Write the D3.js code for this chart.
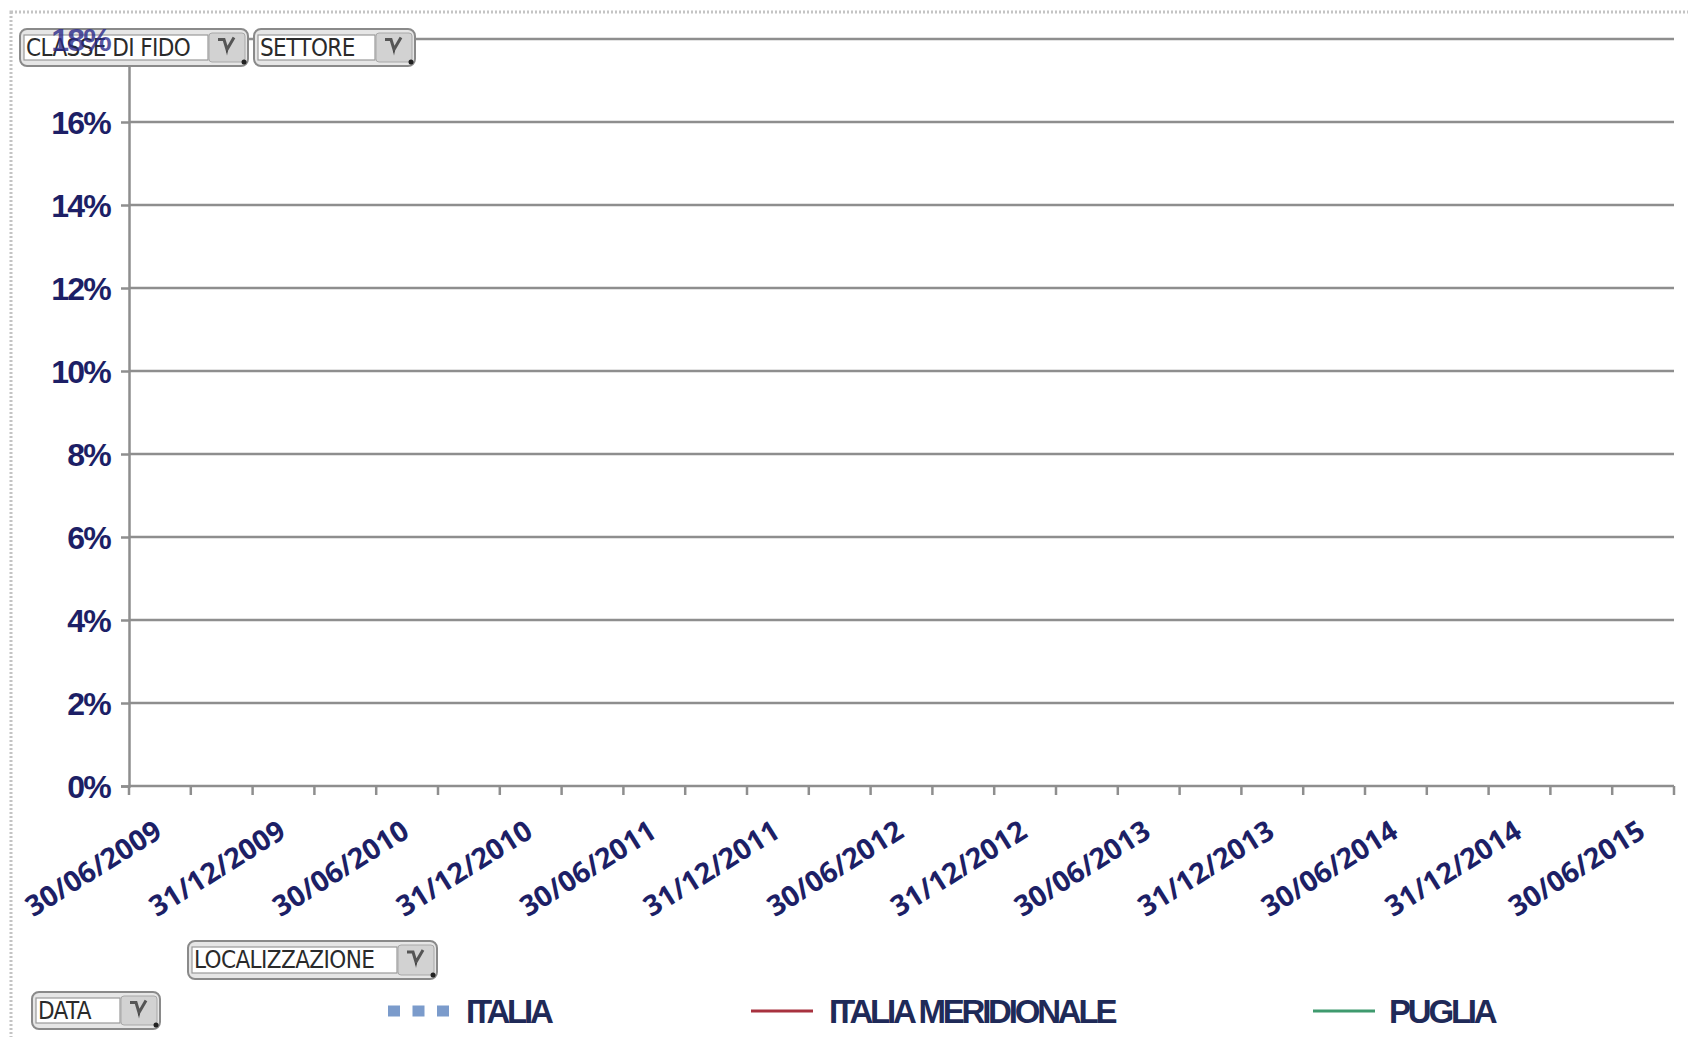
<!DOCTYPE html>
<html><head><meta charset="utf-8">
<script src="https://cdn.jsdelivr.net/npm/d3@7"></script>
<style>
html,body{margin:0;padding:0;background:#fff;}
svg{display:block;}
</style></head>
<body>
<svg id="chart" width="1688" height="1037"></svg>
<script>
// ---- data ----
const categories = [
 "30/06/2009","30/09/2009","31/12/2009","31/03/2010","30/06/2010","30/09/2010",
 "31/12/2010","31/03/2011","30/06/2011","30/09/2011","31/12/2011","31/03/2012",
 "30/06/2012","30/09/2012","31/12/2012","31/03/2013","30/06/2013","30/09/2013",
 "31/12/2013","31/03/2014","30/06/2014","30/09/2014","31/12/2014","31/03/2015","30/06/2015"];
const yTicks = [0,0.02,0.04,0.06,0.08,0.10,0.12,0.14,0.16,0.18];
const seriesNames = ["ITALIA","ITALIA MERIDIONALE","PUGLIA"];
// the reference shows no plotted values for any series
const italiaValues = [];
const meridionaleValues = [];
const pugliaValues = [];
const filterButtons = ["CLASSE DI FIDO","SETTORE","LOCALIZZAZIONE","DATA"];

const seriesColors = {"ITALIA":"#7b9bcb","ITALIA MERIDIONALE":"#a8323f","PUGLIA":"#3f9a6e"};

const svg = d3.select("#chart");
const W = 1688, H = 1037;
const m = {left:129, right:W-1674, top:39, bottom:H-786};

// outer frame
svg.append("rect").attr("x",11).attr("y",12).attr("width",W).attr("height",H)
  .attr("fill","none").attr("stroke","#c4c4c4").attr("stroke-width",3).attr("stroke-dasharray","2,2");

const x = d3.scaleBand().domain(categories).range([m.left, W-m.right]).padding(0);
const y = d3.scaleLinear().domain([0,0.18]).range([H-m.bottom, m.top]);

const gridColor = "#8e8e8e";
const yFont = {family:"'Liberation Sans',Arial,sans-serif", size:"32px", ls:"-1.8px"};
// gridlines
svg.append("g").selectAll("line").data(yTicks.filter(d=>d>0)).join("line")
  .attr("x1",m.left).attr("x2",W-m.right)
  .attr("y1",d=>y(d)).attr("y2",d=>y(d))
  .attr("stroke",gridColor).attr("stroke-width",2.5);

// y axis
const yAxis = svg.append("g").attr("transform",`translate(${m.left},0)`)
  .call(d3.axisLeft(y).tickValues(yTicks).tickSize(8).tickFormat(d=>Math.round(d*100)+"%"));
yAxis.select(".domain").attr("stroke",gridColor).attr("stroke-width",2.5);
yAxis.selectAll(".tick line").attr("stroke",gridColor).attr("stroke-width",2.5);
yAxis.selectAll(".tick text").attr("fill","#1d1f66")
  .style("font-family",yFont.family).style("font-weight","bold")
  .style("font-size",yFont.size).style("letter-spacing",yFont.ls).attr("x",-19).attr("dy","0.36em");

// x axis baseline and boundary ticks
const xg = svg.append("g");
xg.append("line").attr("x1",m.left).attr("x2",W-m.right).attr("y1",y(0)).attr("y2",y(0))
  .attr("stroke",gridColor).attr("stroke-width",2.5);
const bounds = categories.map(c=>x(c)).concat([x(categories[categories.length-1])+x.bandwidth()]);
xg.selectAll("line.tk").data(bounds).join("line").attr("class","tk")
  .attr("x1",d=>d).attr("x2",d=>d).attr("y1",y(0)).attr("y2",y(0)+9)
  .attr("stroke",gridColor).attr("stroke-width",2.5);
xg.selectAll("text").data(categories.filter((c,i)=>i%2===0)).join("text")
  .attr("transform",c=>`translate(${x(c)+x.bandwidth()/2+4},${y(0)+50}) rotate(-32)`)
  .attr("text-anchor","end").attr("fill","#1d1f66")
  .style("font-family","'Open Sans',sans-serif").style("font-weight","bold").style("font-size","28.5px")
  .text(c=>c);

// series lines (no values in reference)
const line = d3.line().defined(d=>d!=null).x((d,i)=>x(categories[i])+x.bandwidth()/2).y(d=>y(d));
[[italiaValues,"ITALIA"],[meridionaleValues,"ITALIA MERIDIONALE"],[pugliaValues,"PUGLIA"]].forEach(([vals,name])=>{
  svg.append("path").datum(vals).attr("d",line).attr("fill","none")
    .attr("stroke",seriesColors[name]).attr("stroke-width",3)
    .attr("stroke-dasharray",name==="ITALIA"?"10,10":null);
});

// filter buttons
function button(bx,by,w,h,label){
  const g = svg.append("g");
  const bw = 36;
  g.append("rect").attr("x",bx).attr("y",by).attr("width",w).attr("height",h).attr("rx",7)
    .attr("fill","#e6e6e6").attr("stroke","#8a8a8a").attr("stroke-width",2);
  g.append("rect").attr("x",bx+4).attr("y",by+6).attr("width",w-bw-8).attr("height",h-12)
    .attr("fill","#ffffff").attr("stroke","#9a9a9a").attr("stroke-width",1.2);
  g.append("rect").attr("x",bx+w-bw-3).attr("y",by+4).attr("width",bw).attr("height",h-8).attr("rx",3)
    .attr("fill","#d2d2d2").attr("stroke","#a8a8a8").attr("stroke-width",1);
  const cx = bx+w-bw/2-3, cy = by+h/2;
  g.append("path").attr("d",`M${cx-9},${cy-8} L${cx-3},${cy-8} L${cx},${cy+2} L${cx+7},${cy-10}`)
    .attr("fill","none").attr("stroke","#555").attr("stroke-width",3);
  g.append("path").attr("d",`M${cx-1},${cy+3} L${cx+1},${cy+3} L${cx},${cy+8}z`).attr("fill","#444");
  g.append("circle").attr("cx",bx+w-4).attr("cy",by+h-4).attr("r",2.5).attr("fill","#222");
  g.append("text").attr("x",bx+6).attr("y",cy+8).attr("fill","#2a2a2a")
    .style("font-family","'Liberation Sans Narrow','DejaVu Sans Condensed',sans-serif")
    .style("font-size","24px").style("letter-spacing","-0.6px").text(label);
}
button(20,29,228,37,filterButtons[0]);
button(254,29,161,37,filterButtons[1]);
button(188,941,249,38,filterButtons[2]);
button(32,992,128,37,filterButtons[3]);

// 18% label drawn over the button (as in reference)
svg.append("text").attr("x",m.left-19).attr("y",y(0.18)).attr("dy","0.36em").attr("text-anchor","end")
  .attr("fill","#2c2b8a").attr("opacity",0.8)
  .style("font-family",yFont.family).style("font-weight","bold")
  .style("font-size",yFont.size).style("letter-spacing",yFont.ls).text("18%");

// legend
const legendPos = [{sx:388,tx:466},{sx:751,tx:829},{sx:1313,tx:1389}];
const ly = 1011;
seriesNames.forEach((n,i)=>{
  const p = legendPos[i];
  svg.append("line").attr("x1",p.sx).attr("x2",p.sx+62).attr("y1",ly).attr("y2",ly)
    .attr("stroke",seriesColors[n]).attr("stroke-width",n==="ITALIA"?11:3)
    .attr("stroke-dasharray",n==="ITALIA"?"12,12.5":null);
  svg.append("text").attr("x",p.tx).attr("y",ly+12).attr("fill","#1f2a58")
    .style("font-family","'Liberation Sans',Arial,sans-serif").style("font-weight","bold")
    .style("font-size","33px").style("letter-spacing","-3.2px").text(n);
});
</script>
</body></html>
